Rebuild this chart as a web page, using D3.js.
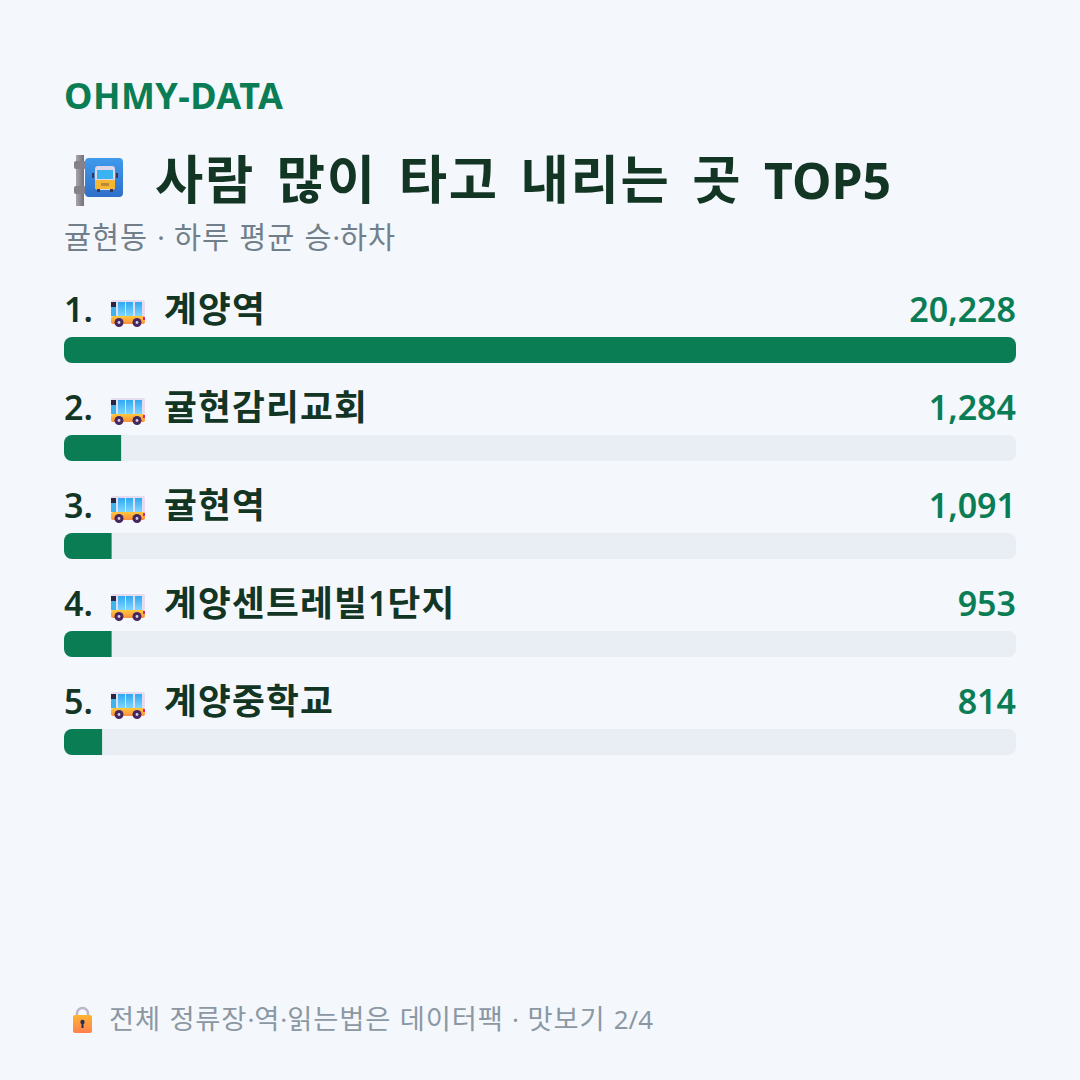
<!DOCTYPE html>
<html lang="ko">
<head>
<meta charset="utf-8">
<script src="https://cdn.jsdelivr.net/npm/d3@7/dist/d3.min.js"></script>
<style>
html,body{margin:0;padding:0;background:#f4f7fc;}
svg{display:block;}
text{font-family:"Noto Sans","Noto Sans CJK KR",sans-serif;}
</style>
</head>
<body>
<svg id="chart" width="1080" height="1080"></svg>
<script>
// Stop names and their average daily boardings and alightings
const stops = ["계양역", "귤현감리교회", "귤현역", "계양센트레빌1단지", "계양중학교"];
const riders = [20228, 1284, 1091, 953, 814];
const brand = "OHMY-DATA";
const headline = "사람 많이 타고 내리는 곳 TOP5";
const subhead = "귤현동 · 하루 평균 승·하차";
const footnote = "전체 정류장·역·읽는법은 데이터팩 · 맛보기 2/4";

const GREEN = "#0a7d55", INK = "#123524", GREY = "#717f8b", MUTED = "#8b98a3", TRACK = "#e9edf4";
const svg = d3.select("#chart");

svg.append("rect").attr("width", 1080).attr("height", 1080).attr("fill", "#f4f7fc");

// Bar lengths are whole percentages of the busiest stop, laid across the full track
const x = d3.scaleLinear().domain([0, 100]).range([0, 952]);
const share = v => Math.round(v / d3.max(riders) * 100);
const rowY = d3.scaleBand().domain(d3.range(stops.length)).range([288, 778]).padding(0);

// Hangul runs are set slightly larger and tracked out to a full em per syllable
const HANGUL_SCALE = 1.05;
function mixedText(sel, str, size) {
  str.split(/([가-힣]+)/).filter(Boolean).forEach(part => {
    const span = sel.append("tspan").text(part);
    if (/[가-힣]/.test(part)) {
      span.attr("font-size", size * HANGUL_SCALE)
        .attr("letter-spacing", size * (1 - 0.92 * HANGUL_SCALE));
    }
  });
  return sel;
}

const label = (px, py, str, size, weight, fill) => mixedText(svg.append("text")
  .attr("x", px).attr("y", py).attr("font-size", size).attr("font-weight", weight)
  .attr("fill", fill), str, size);

const defs = svg.append("defs");
function gradient(id, stopsList, horizontal) {
  const g = defs.append("linearGradient").attr("id", id)
    .attr("x1", 0).attr("y1", 0).attr("x2", horizontal ? 1 : 0).attr("y2", horizontal ? 0 : 1);
  stopsList.forEach(([o, c]) => g.append("stop").attr("offset", o).attr("stop-color", c));
}
gradient("sign", [[0, "#3f9bec"], [1, "#2f6fc9"]]);
gradient("pole", [[0, "#a9a5ad"], [1, "#75717c"]], true);
gradient("glass", [[0, "#2fa8f2"], [1, "#7fd6ff"]]);
gradient("body", [[0, "#ffc83d"], [1, "#ff8f3c"]]);
gradient("lock", [[0, "#ffb52e"], [1, "#ff7f50"]]);

// Bus-stop sign with its pole
function stopSign(g) {
  g.append("rect").attr("x", 2).attr("y", 0).attr("width", 8).attr("height", 51).attr("fill", "url(#pole)");
  g.append("rect").attr("x", 0).attr("y", 6).attr("width", 12).attr("height", 8).attr("rx", 2).attr("fill", "#85818b");
  g.append("rect").attr("x", 0).attr("y", 31).attr("width", 12).attr("height", 8).attr("rx", 2).attr("fill", "#85818b");
  g.append("rect").attr("x", 11).attr("y", 3).attr("width", 38).attr("height", 39).attr("rx", 4).attr("fill", "url(#sign)");
  g.append("rect").attr("x", 21).attr("y", 11).attr("width", 20).attr("height", 24).attr("rx", 3).attr("fill", "#dcd6ea");
  g.append("rect").attr("x", 23).attr("y", 15).attr("width", 16).attr("height", 9).attr("fill", "#39b3f2");
  g.append("rect").attr("x", 21).attr("y", 25).attr("width", 20).attr("height", 9).attr("rx", 1).attr("fill", "#f5b731");
  g.append("rect").attr("x", 27).attr("y", 28).attr("width", 8).attr("height", 3).attr("fill", "#b98a3a");
  g.append("rect").attr("x", 18).attr("y", 18).attr("width", 2).attr("height", 5).attr("fill", "#3c3550");
  g.append("rect").attr("x", 42).attr("y", 18).attr("width", 2).attr("height", 5).attr("fill", "#3c3550");
  g.append("rect").attr("x", 23).attr("y", 34).attr("width", 3).attr("height", 3).attr("fill", "#3c3550");
  g.append("rect").attr("x", 36).attr("y", 34).attr("width", 3).attr("height", 3).attr("fill", "#3c3550");
}

// Side view of a bus
function busIcon(g) {
  g.append("rect").attr("x", 0).attr("y", 0).attr("width", 34).attr("height", 17).attr("rx", 2).attr("fill", "#e6dcf0");
  g.append("rect").attr("x", 0).attr("y", 2).attr("width", 5).attr("height", 14).attr("fill", "#3fb4ea");
  g.append("rect").attr("x", 0).attr("y", 2).attr("width", 5).attr("height", 5).attr("fill", "#2b2640");
  [7, 15, 24].forEach(wx => g.append("rect").attr("x", wx).attr("y", 2).attr("width", 7).attr("height", 14).attr("fill", "url(#glass)"));
  g.append("rect").attr("x", 0).attr("y", 16).attr("width", 34).attr("height", 8).attr("rx", 2).attr("fill", "url(#body)");
  g.append("rect").attr("x", 32).attr("y", 17).attr("width", 2).attr("height", 3).attr("fill", "#d6267f");
  [8, 26].forEach(cx => {
    g.append("circle").attr("cx", cx).attr("cy", 22.5).attr("r", 4.5).attr("fill", "#46285f");
    g.append("circle").attr("cx", cx).attr("cy", 22.5).attr("r", 1.4).attr("fill", "#d9d0e6");
  });
}

// Padlock
function lockIcon(g) {
  g.append("path").attr("d", "M4 9V6.5a5.5 5.5 0 0 1 11 0V9").attr("fill", "none")
    .attr("stroke", "#bdb6c8").attr("stroke-width", 2.6);
  g.append("rect").attr("x", 0).attr("y", 8).attr("width", 19).attr("height", 18).attr("rx", 2).attr("fill", "url(#lock)");
  g.append("circle").attr("cx", 9.5).attr("cy", 15).attr("r", 2.2).attr("fill", "#2d2a5a");
  g.append("rect").attr("x", 8.5).attr("y", 15).attr("width", 2).attr("height", 6).attr("fill", "#2d2a5a");
}

label(64, 109, brand, 36, 700, GREEN).attr("letter-spacing", 0.45);
stopSign(svg.append("g").attr("transform", "translate(74,155)"));
label(155, 199, headline, 50, 700, INK).attr("word-spacing", 8.8);
label(64, 248, subhead, 28, 400, GREY).attr("word-spacing", 2);

// One row per stop: rank, bus, name, figure, then the track and its fill
const clip = defs.selectAll("clipPath").data(stops).join("clipPath").attr("id", (d, i) => "track" + i);
clip.append("rect").attr("x", x(0)).attr("y", 0).attr("width", x(100)).attr("height", 26).attr("rx", 8);

const rows = svg.selectAll("g.row").data(stops).join("g").attr("class", "row")
  .attr("transform", (d, i) => `translate(64,${rowY(i)})`);

rows.append("text").attr("x", 0).attr("y", 34).attr("font-size", 34).attr("font-weight", 600).attr("fill", INK)
  .text((d, i) => `${i + 1}.`);
rows.append("g").attr("transform", "translate(47,12)").each(function () { busIcon(d3.select(this)); });
rows.append("text").attr("x", 100).attr("y", 34).attr("font-size", 34).attr("font-weight", 600).attr("fill", INK)
  .each(function (d) { mixedText(d3.select(this), d, 34); });
rows.append("text").attr("x", x(100)).attr("y", 34).attr("text-anchor", "end").attr("font-size", 34)
  .attr("font-weight", 600).attr("fill", GREEN).text((d, i) => d3.format(",")(riders[i]));

const tracks = rows.append("g").attr("transform", "translate(0,49)");
tracks.append("rect").attr("x", x(0)).attr("width", x(100)).attr("height", 26).attr("rx", 8).attr("fill", TRACK);
tracks.append("rect").attr("clip-path", (d, i) => `url(#track${i})`).attr("x", x(0))
  .attr("width", (d, i) => x(share(riders[i]))).attr("height", 26).attr("fill", GREEN);

lockIcon(svg.append("g").attr("transform", "translate(73,1007)"));
label(109, 1029, footnote, 26, 400, MUTED).attr("word-spacing", 1.6);
</script>
</body>
</html>
